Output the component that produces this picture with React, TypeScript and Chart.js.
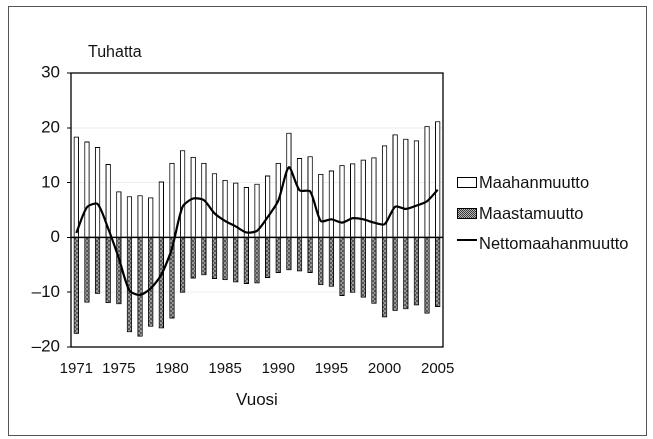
import React, { useEffect, useRef } from "react";
import { Chart, registerables } from "chart.js";

Chart.register(...registerables);

const years = [
  "1971", "1972", "1973", "1974", "1975", "1976", "1977", "1978", "1979", "1980",
  "1981", "1982", "1983", "1984", "1985", "1986", "1987", "1988", "1989", "1990",
  "1991", "1992", "1993", "1994", "1995", "1996", "1997", "1998", "1999", "2000",
  "2001", "2002", "2003", "2004", "2005",
];

const maahanmuutto = [
  18.4, 17.5, 16.5, 13.4, 8.4, 7.5, 7.7, 7.3, 10.2, 13.6,
  15.9, 14.7, 13.6, 11.7, 10.5, 10.0, 9.2, 9.8, 11.3, 13.6,
  19.1, 14.5, 14.8, 11.6, 12.2, 13.2, 13.5, 14.2, 14.6, 16.8,
  18.8, 18.0, 17.7, 20.3, 21.2,
];

const maastamuutto = [
  -17.6, -11.9, -10.3, -12.0, -12.2, -17.3, -18.1, -16.3, -16.6, -14.8,
  -10.1, -7.5, -6.9, -7.6, -7.8, -8.2, -8.5, -8.4, -7.4, -6.5,
  -6.0, -6.2, -6.5, -8.7, -9.0, -10.7, -10.1, -11.0, -12.1, -14.6,
  -13.4, -13.1, -12.4, -13.9, -12.7,
];

const nettomaahanmuutto = [
  0.8, 5.5, 6.1, 1.6, -3.8, -9.7, -10.5, -9.3, -6.8, -2.0,
  5.6, 7.1, 6.8, 4.4, 3.0, 2.0, 0.9, 1.2, 3.7, 6.7,
  12.8, 8.6, 8.4, 3.0, 3.3, 2.7, 3.5, 3.3, 2.7, 2.4,
  5.6, 5.2, 5.8, 6.6, 8.7,
];

const shownYearLabels = ["1971", "1975", "1980", "1985", "1990", "1995", "2000", "2005"];

const FONT = "'Liberation Sans', Arial, Helvetica, sans-serif";

function makePattern(): CanvasPattern | string {
  const c = document.createElement("canvas");
  c.width = 4;
  c.height = 4;
  const g = c.getContext("2d");
  if (!g) return "#888";
  g.fillStyle = "#b4b4b4";
  g.fillRect(0, 0, 4, 4);
  g.fillStyle = "#3c3c3c";
  g.fillRect(0, 0, 2, 2);
  g.fillRect(2, 2, 2, 2);
  const p = g.createPattern(c, "repeat");
  return p || "#888";
}

const framePlugin = {
  id: "frame",
  afterDatasetsDraw(chart: any) {
    const { ctx, chartArea, scales } = chart;
    ctx.save();
    ctx.strokeStyle = "#000";
    ctx.lineWidth = 1.5;
    const y0 = scales.y.getPixelForValue(0);
    ctx.beginPath();
    ctx.moveTo(chartArea.left, y0);
    ctx.lineTo(chartArea.right, y0);
    ctx.stroke();
    ctx.lineWidth = 1.3;
    ctx.strokeRect(chartArea.left, chartArea.top, chartArea.right - chartArea.left, chartArea.bottom - chartArea.top);
    ctx.restore();
  },
};

export default function App() {
  const canvasRef = useRef<HTMLCanvasElement | null>(null);

  useEffect(() => {
    if (!canvasRef.current) return;
    const pattern = makePattern();
    const chart = new Chart(canvasRef.current, {
      type: "bar",
      data: {
        labels: years,
        datasets: [
          {
            type: "line",
            label: "Nettomaahanmuutto",
            data: nettomaahanmuutto,
            borderColor: "#000",
            borderWidth: 2.2,
            pointRadius: 0,
            tension: 0.25,
            order: 0,
          } as any,
          {
            label: "Maahanmuutto",
            data: maahanmuutto,
            backgroundColor: "#fff",
            borderColor: "#000",
            borderWidth: 1,
            grouped: false,
            barPercentage: 0.5,
            categoryPercentage: 1,
            order: 2,
          },
          {
            label: "Maastamuutto",
            data: maastamuutto,
            backgroundColor: pattern as any,
            borderColor: "#000",
            borderWidth: 1,
            grouped: false,
            barPercentage: 0.5,
            categoryPercentage: 1,
            order: 1,
          },
        ],
      },
      options: {
        animation: false,
        responsive: false,
        maintainAspectRatio: false,
        devicePixelRatio: 2,
        layout: { padding: { left: 8, right: 210, top: 73, bottom: 62 } },
        plugins: {
          legend: { display: false },
          tooltip: { enabled: false },
          title: { display: false },
        },
        scales: {
          x: {
            stacked: false,
            offset: true,
            grid: { display: false, drawTicks: false },
            border: { display: false },
            afterFit: (s: any) => {
              s.height = 30;
            },
            ticks: {
              autoSkip: false,
              maxRotation: 0,
              minRotation: 0,
              padding: 13,
              color: "#111",
              font: { family: FONT, size: 15 },
              callback: function (this: any, _v: any, i: number) {
                const l = years[i];
                return shownYearLabels.includes(l) ? l : "";
              },
            },
          },
          y: {
            stacked: false,
            min: -20,
            max: 30,
            afterFit: (s: any) => {
              s.width = 63;
            },
            grid: {
              color: (c: any) => (c.tick && (c.tick.value === 0 || c.tick.value === 30 || c.tick.value === -20) ? "rgba(0,0,0,0)" : "rgba(0,0,0,0.07)"),
              tickColor: "#000",
              tickLength: 4,
              drawTicks: true,
            },
            border: { display: false },
            ticks: {
              stepSize: 10,
              padding: 7,
              color: "#111",
              font: { family: FONT, size: 17 },
              callback: (v: any) => String(v).replace("-", "\u2013"),
            },
          },
        },
      },
      plugins: [framePlugin],
    });
    return () => chart.destroy();
  }, []);

  const txt: React.CSSProperties = {
    position: "absolute",
    fontFamily: FONT,
    color: "#111",
    whiteSpace: "nowrap",
    height: 20,
    lineHeight: "20px",
  };

  return (
    <div style={{ position: "absolute", left: 0, top: 0, width: 653, height: 439, overflow: "hidden", background: "#fff" }}>
      <canvas ref={canvasRef} style={{ position: "absolute", left: 0, top: 0, width: 653, height: 439 }} width={653} height={439} />
      <div style={{ position: "absolute", left: 8, top: 6, width: 639, height: 430, border: "1px solid #555", boxSizing: "border-box", pointerEvents: "none" }} />
      <div style={{ ...txt, left: 88, top: 42, fontSize: 16 }}>Tuhatta</div>
      <div style={{ ...txt, left: 236, top: 390, fontSize: 17 }}>Vuosi</div>
      <div style={{ position: "absolute", left: 457, top: 177, width: 20, height: 11, border: "1px solid #000", boxSizing: "border-box", background: "#fff" }} />
      <div style={{ ...txt, left: 479, top: 172, fontSize: 16.5 }}>Maahanmuutto</div>
      <div style={{ position: "absolute", left: 457, top: 208, width: 20, height: 11, border: "1px solid #000", boxSizing: "border-box", background: "repeating-conic-gradient(#3c3c3c 0 25%, #b4b4b4 0 50%) 0 0/2px 2px" }} />
      <div style={{ ...txt, left: 479, top: 203, fontSize: 16.5 }}>Maastamuutto</div>
      <div style={{ position: "absolute", left: 457, top: 239, width: 20, height: 2, background: "#000" }} />
      <div style={{ ...txt, left: 479, top: 233, fontSize: 16.5 }}>Nettomaahanmuutto</div>
    </div>
  );
}
